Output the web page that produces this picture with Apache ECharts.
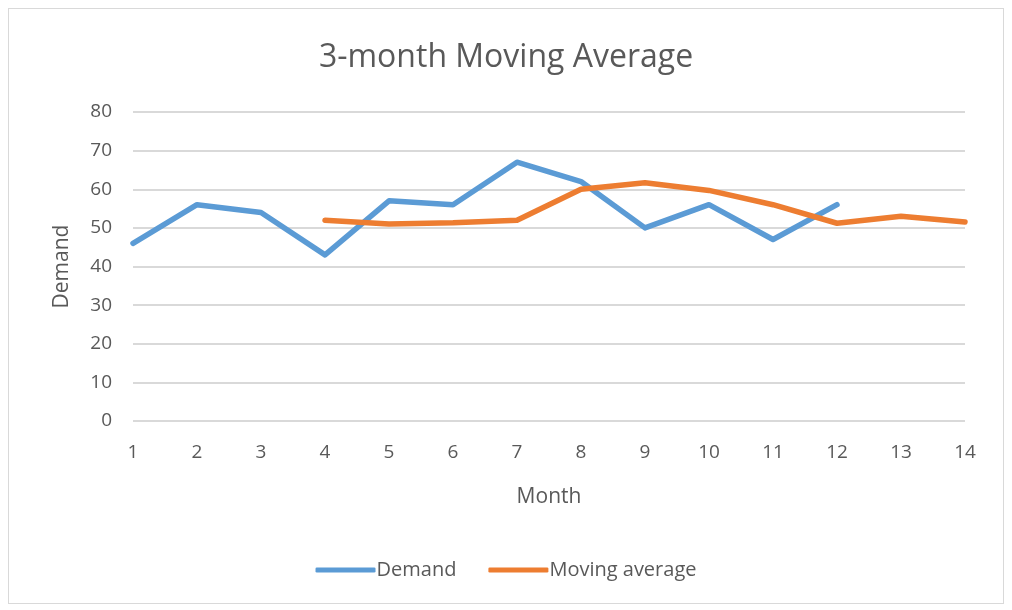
<!DOCTYPE html>
<html><head><meta charset="utf-8">
<script src="https://cdn.jsdelivr.net/npm/echarts@6/dist/echarts.min.js"></script>
<style>
html,body{margin:0;padding:0;background:#fff;}
#frame{position:absolute;left:8px;top:8px;width:996px;height:596px;border:1px solid #d9d9d9;box-sizing:border-box;}
#c{width:1012px;height:610px;}
</style></head>
<body><div id="frame"></div><div id="c"></div>
<script>
const months = ['1','2','3','4','5','6','7','8','9','10','11','12','13','14'];
const demand = [46,56,54,43,57,56,67,62,50,56,47,56,null,null];
const movingAvg = [null,null,null,52,51,51.3,52,60,61.7,59.7,56,51.2,53,51.5];
const yTicks = [0,80,10];

const chart = echarts.init(document.getElementById('c'));
const font = '"Open Sans", "Liberation Sans", sans-serif';
chart.setOption({
  backgroundColor: 'transparent',
  textStyle: {fontFamily: font},
  title: {text: '3-month Moving Average', left: 'center', top: 37,
    textStyle: {fontFamily: font, fontSize: 32, fontWeight: 'normal', color: '#595959'}},
  legend: {bottom: 25, left: 'center', itemWidth: 60, itemHeight: 5, itemGap: 32,
    icon: 'roundRect',
    textStyle: {fontFamily: font, fontSize: 20, color: '#595959', padding: [0,0,0,-4]},
    data: ['Demand','Moving average']},
  grid: {left: 133, right: 47, top: 112, bottom: 189},
  xAxis: {type: 'category', data: months, boundaryGap: false,
    name: 'Month', nameLocation: 'middle', nameGap: 66,
    nameTextStyle: {fontFamily: font, fontSize: 21, color: '#595959'},
    axisLine: {show: false}, axisTick: {show: false},
    axisLabel: {fontFamily: font, fontSize: 19, color: '#595959', margin: 22}},
  yAxis: {type: 'value', min: yTicks[0], max: yTicks[1], interval: yTicks[2],
    name: 'Demand', nameLocation: 'middle', nameGap: 60, nameRotate: 90,
    nameTextStyle: {fontFamily: font, fontSize: 21, color: '#595959'},
    axisLine: {show: false}, axisTick: {show: false},
    axisLabel: {fontFamily: font, fontSize: 19, color: '#595959', margin: 21},
    splitLine: {lineStyle: {color: '#d9d9d9', width: 2}}},
  series: [
    {name: 'Demand', type: 'line', data: demand, showSymbol: false, symbol: 'none',
      lineStyle: {color: '#5b9bd5', width: 5.5, cap: 'round', join: 'round'}, itemStyle: {color: '#5b9bd5'}},
    {name: 'Moving average', type: 'line', data: movingAvg, showSymbol: false, symbol: 'none',
      lineStyle: {color: '#ed7d31', width: 5.5, cap: 'round', join: 'round'}, itemStyle: {color: '#ed7d31'}}
  ]
});
</script></body></html>
